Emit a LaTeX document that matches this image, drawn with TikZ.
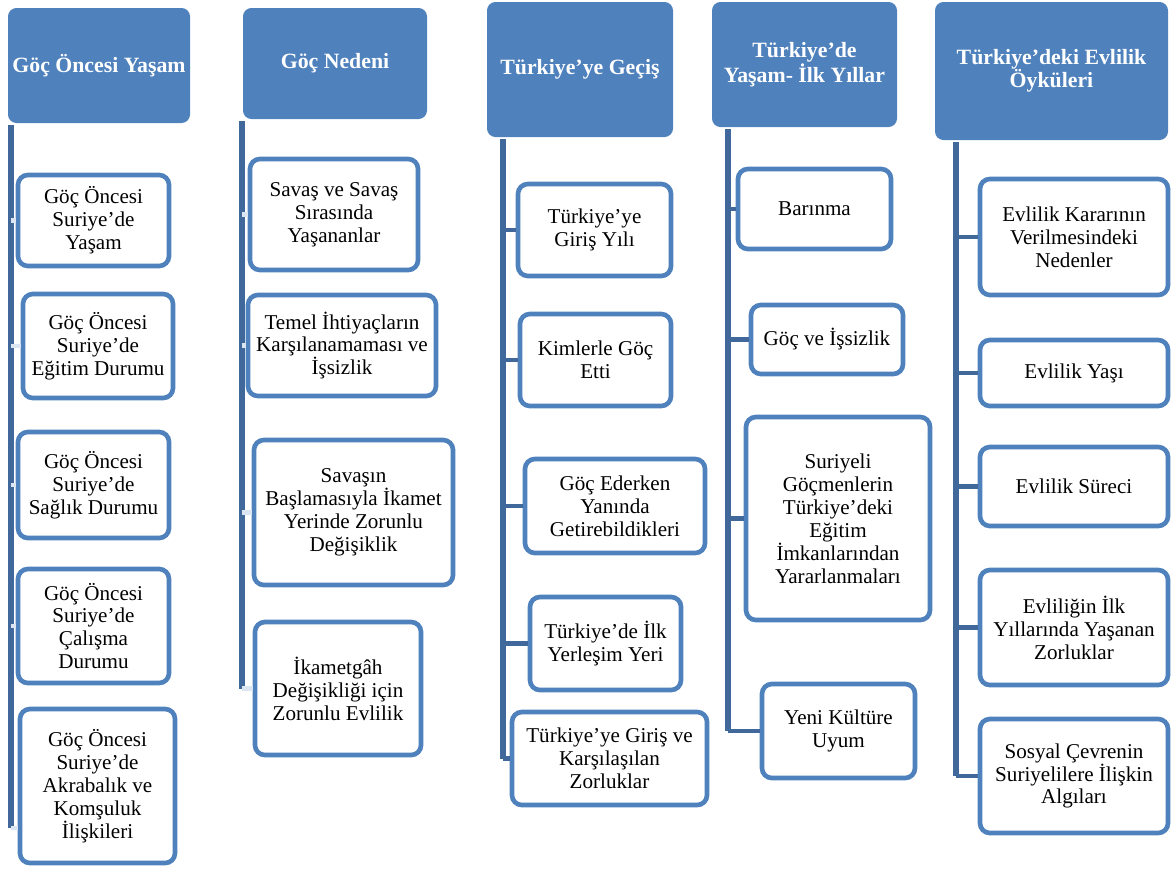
\documentclass[tikz,border=0pt]{standalone}
\usepackage{fontspec}
\setmainfont{Liberation Serif}
\usepackage{tikz}
\usepackage{xcolor}
\definecolor{boxblue}{RGB}{79,129,189}
\definecolor{lineblue}{RGB}{64,104,154}
\definecolor{stubblue}{RGB}{220,230,242}

\begin{document}
\begin{tikzpicture}[x=0.025cm, y=-0.025cm,
  head/.style={fill=boxblue, rounded corners=6pt, text=white, align=center,
    font=\fontsize{15.5}{16.5}\selectfont\bfseries, inner sep=2pt},
  item/.style={draw=boxblue, line width=3.3pt, fill=white, rounded corners=7pt,
    align=center, font=\fontsize{15}{16.3}\selectfont, inner sep=2pt},
  sz/.style 2 args={minimum width=#1*0.025cm, minimum height=#2*0.025cm},
  trunk/.style={lineblue, line width=4pt},
  branch/.style={lineblue, line width=3.5pt},
  faint/.style={stubblue, line width=3.5pt}]
  \useasboundingbox (0,0) rectangle (1174,875);

  % Headers
  \node[head, sz={182}{115}] (h1) at (99,65.5) {Göç Öncesi Yaşam};
  \node[head, sz={184}{111}] (h2) at (335,63.5) {Göç Nedeni};
  \node[head, sz={186}{135}] (h3) at (580,69.5) {Türkiye’ye Geçiş};
  \node[head, sz={185}{125}] (h4) at (804.5,64.5) {Türkiye’de\\Yaşam- İlk Yıllar};
  \node[head, sz={233}{138}] (h5) at (1051.5,71) {Türkiye’deki Evlilik\\Öyküleri};

  % Column 1
  \node[item, sz={151}{91}] (c1a) at (93.5,220.5) {Göç Öncesi\\Suriye’de\\Yaşam};
  \node[item, sz={150}{104}] (c1b) at (98,346) {Göç Öncesi\\Suriye’de\\Eğitim Durumu};
  \node[item, sz={151}{106}] (c1c) at (93.5,485) {Göç Öncesi\\Suriye’de\\Sağlık Durumu};
  \node[item, sz={151}{114}] (c1d) at (93.5,626) {Göç Öncesi\\Suriye’de\\Çalışma\\Durumu};
  \node[item, sz={155}{154}] (c1e) at (97.5,786) {Göç Öncesi\\Suriye’de\\Akrabalık ve\\Komşuluk\\İlişkileri};

  % Column 2
  \node[item, sz={168}{111}] (c2a) at (334,214.5) {Savaş ve Savaş\\Sırasında\\Yaşananlar};
  \node[item, sz={188}{101}] (c2b) at (342,345.5) {Temel İhtiyaçların\\Karşılanamaması ve\\İşsizlik};
  \node[item, sz={199}{145}] (c2c) at (353.5,512.5) {Savaşın\\Başlamasıyla İkamet\\Yerinde Zorunlu\\Değişiklik};
  \node[item, sz={166}{133}] (c2d) at (338,688.5) {İkametgâh\\Değişikliği için\\Zorunlu Evlilik};

  % Column 3
  \node[item, sz={153}{92}] (c3a) at (594.5,230) {Türkiye’ye\\Giriş Yılı};
  \node[item, sz={151}{92}] (c3b) at (595.5,360) {Kimlerle Göç\\Etti};
  \node[item, sz={180}{94}] (c3c) at (615,506) {Göç Ederken\\Yanında\\Getirebildikleri};
  \node[item, sz={151}{93}] (c3d) at (605.5,643.5) {Türkiye’de İlk\\Yerleşim Yeri};
  \node[item, sz={195}{93}] (c3e) at (609.5,758.5) {Türkiye’ye Giriş ve\\Karşılaşılan\\Zorluklar};

  % Column 4
  \node[item, sz={153}{80}] (c4a) at (814.5,209) {Barınma};
  \node[item, sz={152}{69}] (c4b) at (827,339.5) {Göç ve İşsizlik};
  \node[item, sz={184}{203}] (c4c) at (838,518.5) {Suriyeli\\Göçmenlerin\\Türkiye’deki\\Eğitim\\İmkanlarından\\Yararlanmaları};
  \node[item, sz={153}{94}] (c4d) at (838.5,731) {Yeni Kültüre\\Uyum};

  % Column 5
  \node[item, sz={188}{116}] (c5a) at (1074,237) {Evlilik Kararının\\Verilmesindeki\\Nedenler};
  \node[item, sz={188}{66}] (c5b) at (1074,373) {Evlilik Yaşı};
  \node[item, sz={188}{79}] (c5c) at (1074,486.5) {Evlilik Süreci};
  \node[item, sz={188}{115}] (c5d) at (1074,627.5) {Evliliğin İlk\\Yıllarında Yaşanan\\Zorluklar};
  \node[item, sz={188}{114}] (c5e) at (1074,776) {Sosyal Çevrenin\\Suriyelilere İlişkin\\Algıları};

  % Trunks under the headers
  \coordinate (t1) at (11,125);
  \coordinate (t2) at (242,121);
  \coordinate (t3) at (503,139);
  \coordinate (t4) at (728,129);
  \coordinate (t5) at (956,142);
  \coordinate (e1) at (11,828);
  \draw[trunk] (t1) -- (e1);
  \draw[trunk] (t2) -- (t2 |- c2d.west);
  \draw[trunk] (t3) -- (t3 |- c3e.west);
  \draw[trunk] (t4) -- (t4 |- c4d.west);
  \draw[trunk] (t5) -- (t5 |- c5e.west);

  % Branches, pale in the first two columns
  \draw[faint] (t1 |- c1a.west) -- (c1a.west);
  \draw[faint] (t1 |- c1b.west) -- (c1b.west);
  \draw[faint] (t1 |- c1c.west) -- (c1c.west);
  \draw[faint] (t1 |- c1d.west) -- (c1d.west);
  \draw[faint] (e1) -- (e1 -| c1e.west);
  \draw[faint] (t2 |- c2a.west) -- (c2a.west);
  \draw[faint] (t2 |- c2b.west) -- (c2b.west);
  \draw[faint] (t2 |- c2c.west) -- (c2c.west);
  \draw[faint] (t2 |- c2d.west) -- (c2d.west);
  \draw[branch] (t3 |- c3a.west) -- (c3a.west);
  \draw[branch] (t3 |- c3b.west) -- (c3b.west);
  \draw[branch] (t3 |- c3c.west) -- (c3c.west);
  \draw[branch] (t3 |- c3d.west) -- (c3d.west);
  \draw[branch] (t3 |- c3e.west) -- (c3e.west);
  \draw[branch] (t4 |- c4a.west) -- (c4a.west);
  \draw[branch] (t4 |- c4b.west) -- (c4b.west);
  \draw[branch] (t4 |- c4c.west) -- (c4c.west);
  \draw[branch] (t4 |- c4d.west) -- (c4d.west);
  \draw[branch] (t5 |- c5a.west) -- (c5a.west);
  \draw[branch] (t5 |- c5b.west) -- (c5b.west);
  \draw[branch] (t5 |- c5c.west) -- (c5c.west);
  \draw[branch] (t5 |- c5d.west) -- (c5d.west);
  \draw[branch] (t5 |- c5e.west) -- (c5e.west);
\end{tikzpicture}
\end{document}
